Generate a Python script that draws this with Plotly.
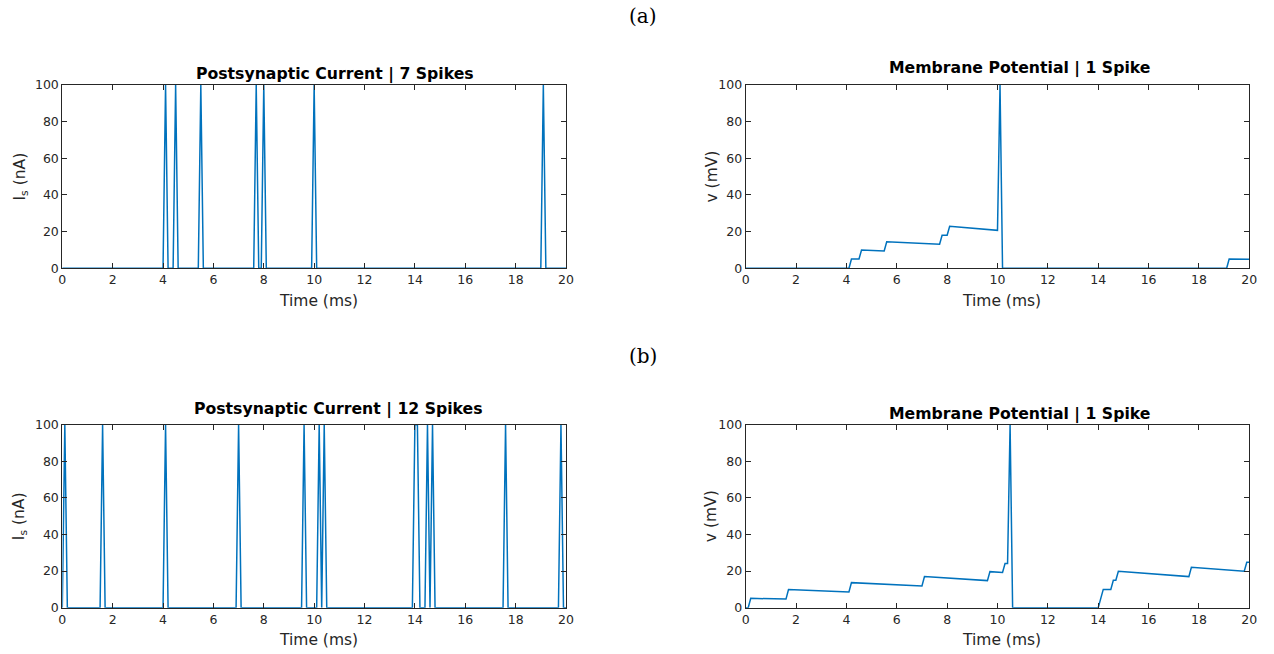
import numpy as np
import plotly.graph_objects as go

# ---- data ---------------------------------------------------------------
dt = 0.1
t_end = 20.0
spike_amp = 100.0

# input spike times (ms) feeding the neuron
spikes_a = [4.1, 4.5, 5.5, 7.7, 8.0, 10.0, 19.1]
spikes_b = [0.1, 1.6, 4.1, 7.0, 9.6, 10.2, 10.4, 14.0, 14.1, 14.5, 14.7, 17.6, 19.8]

# membrane potential samples (ms, mV)
v_a_time = [0, 4.1, 4.2, 4.5, 4.6, 5.5, 5.6, 7.7, 7.8, 8.0, 8.1, 10.0, 10.1, 10.2,
            19.1, 19.2, 20.0]
v_a_volt = [0, 0, 5.1, 5.1, 10.0, 9.45, 14.5, 13.1, 18.0, 18.0, 22.9, 20.7, 100, 0,
            0, 5.1, 4.9]

v_b_time = [0, 0.1, 0.2, 1.6, 1.7, 4.1, 4.2, 7.0, 7.1, 9.6, 9.7, 10.2, 10.3, 10.4,
            10.5, 10.6, 14.0, 14.1, 14.2, 14.5, 14.6, 14.7, 14.8, 17.6, 17.7, 19.8,
            19.9, 20.0]
v_b_volt = [0, 0, 5.1, 4.7, 9.9, 8.6, 13.7, 11.9, 17.0, 14.8, 19.7, 19.3, 24.1, 24.1,
            100, 0, 0, 5.0, 10.0, 10.0, 15.0, 15.0, 19.9, 17.0, 22.1, 19.9,
            24.8, 24.8]

title_current_a = "Postsynaptic Current | 7 Spikes"
title_current_b = "Postsynaptic Current | 12 Spikes"
title_voltage = "Membrane Potential | 1 Spike"

x_ticks = list(range(0, 21, 2))
y_ticks = list(range(0, 101, 20))


def current_trace(spike_times):
    t = np.round(np.arange(0, t_end + dt / 2, dt), 1)
    i_s = np.zeros_like(t)
    for s in spike_times:
        i_s[int(round(s / dt))] = spike_amp
    return t, i_s


# ---- figure -------------------------------------------------------------
W, H = 1274, 654
LINE = "#0072BD"
AX = "#262626"


def px_x(p):
    return p / W


def px_y(p):
    return 1 - p / H


fig = go.Figure()

ta, ia = current_trace(spikes_a)
tb, ib = current_trace(spikes_b)

traces = [
    (ta, ia, "x", "y"),
    (v_a_time, v_a_volt, "x2", "y2"),
    (tb, ib, "x3", "y3"),
    (v_b_time, v_b_volt, "x4", "y4"),
]
for xs, ys, xa, ya in traces:
    fig.add_trace(go.Scatter(x=xs, y=ys, mode="lines", xaxis=xa, yaxis=ya,
                             line=dict(color=LINE, width=1.5), showlegend=False,
                             hoverinfo="skip"))

left_x = [62.3, 566.0]
right_x = [745.7, 1249.3]
top_y = [85.0, 268.3]
bot_y = [424.7, 607.7]

panels = [
    ("", left_x, top_y),
    ("2", right_x, top_y),
    ("3", left_x, bot_y),
    ("4", right_x, bot_y),
]

tick_font = dict(family="DejaVu Sans", size=12.5, color=AX)
axis_common = dict(showline=True, linecolor=AX, linewidth=1, mirror="ticks",
                   ticks="inside", ticklen=5, tickcolor=AX, tickwidth=1,
                   showgrid=False, zeroline=False, tickfont=tick_font,
                   fixedrange=True, automargin=False)

layout = {}
for suf, xr, yr in panels:
    layout["xaxis" + suf] = dict(
        domain=[px_x(xr[0]), px_x(xr[1])], range=[0, 20], tickvals=x_ticks,
        anchor="y" + suf, **axis_common)
    layout["yaxis" + suf] = dict(
        domain=[px_y(yr[1]), px_y(yr[0])], range=[0, 100], tickvals=y_ticks,
        anchor="x" + suf, **axis_common)

fig.update_layout(**layout)

ann = []


def text(x, y, s, size, bold=False, angle=0, family="DejaVu Sans", color=AX):
    ann.append(dict(x=px_x(x), y=px_y(y), xref="paper", yref="paper",
                    text=f"<b>{s}</b>" if bold else s, showarrow=False,
                    xanchor="center", yanchor="middle", textangle=angle,
                    font=dict(family=family, size=size, color=color)))


# panel letters
text(643, 16, "(a)", 20, family="DejaVu Serif", color="#000000")
text(643, 356, "(b)", 20, family="DejaVu Serif", color="#000000")

# subplot titles
text(335, 74, title_current_a, 15.7, bold=True, color="#000000")
text(1019, 68.5, title_voltage, 15.7, bold=True, color="#000000")
text(338.5, 409, title_current_b, 15.7, bold=True, color="#000000")
text(1019, 414, title_voltage, 15.7, bold=True, color="#000000")

# axis titles
for yc, yb in [(176.5, 300.5), (516.2, 639.5)]:
    text(318, yb, "Time (ms)", 15.5)
    text(1001.7, yb, "Time (ms)", 15.5)
    text(20, yc, "I<sub>s</sub> (nA)", 15.5, angle=-90)
    text(711, yc, "v (mV)", 15.5, angle=-90)

fig.update_layout(
    width=W, height=H,
    margin=dict(l=0, r=0, t=0, b=0, pad=0, autoexpand=False),
    paper_bgcolor="white", plot_bgcolor="white", annotations=ann,
)

fig.write_html("out.html")
